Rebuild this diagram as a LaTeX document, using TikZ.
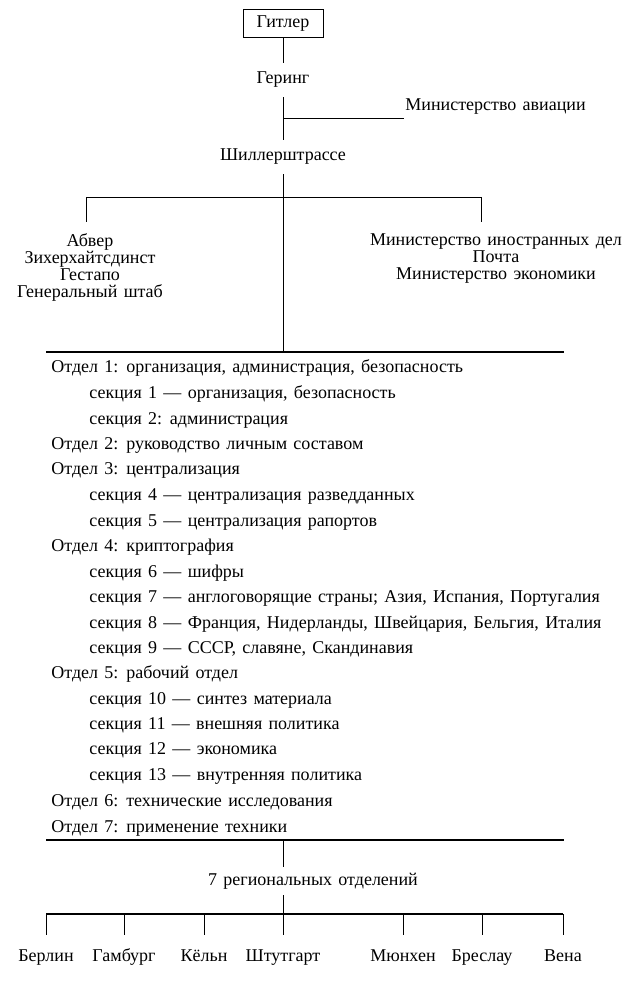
\documentclass[tikz,border=0pt]{standalone}
\usepackage{fontspec}
\setmainfont[WordSpace=1.4]{Liberation Serif}
\begin{document}
\begin{tikzpicture}[x=1pt,y=-1pt,line width=0.8pt,
    every node/.style={font=\fontsize{18}{17}\selectfont,inner sep=1pt,
      text height=12pt,text depth=4pt},
    chief/.style={draw,line width=1pt,minimum width=80pt,minimum height=28pt},
    title/.style={inner ysep=9pt},
    group/.style={align=center,anchor=north,text height=,text depth=},
    entry/.style={anchor=base west},
    city/.style={inner ysep=14pt},
    bar/.style={line width=1.1pt}]
  \useasboundingbox (0,0) rectangle (634,981);
  % top of the chart
  \draw
    (283,24) node[chief] (hitler){Гитлер}
    (283,80) node[title] (goering){Геринг}
    (283,157) node[title] (schiller){Шиллерштрассе}
    (404,111) node[entry] (aviation){Министерство авиации}
    (90,232) node[group] (services){Абвер\\Зихерхайтсдинст\\Гестапо\\Генеральный штаб}
    (496,232) node[group] (ministries){Министерство иностранных дел\\Почта\\Министерство экономики};
  \coordinate (fork) at (283,118);
  \coordinate (legL) at (86,222);
  \coordinate (legR) at (481,222);
  \coordinate (topW) at (46,352);
  \coordinate (topE) at (564,352);
  \begin{scope}[-]
    \draw (hitler) to (goering);
    \draw (goering) to (schiller);
    \draw (fork) to (fork -| aviation.west);
    \draw (legL) -- (86,197) -| (legR);
    \draw (schiller) to (schiller |- topW);
    \draw[bar] (topW) to (topE);
  \end{scope}
  % departments and sections
  \draw
    (50,372) node[entry] (d1){Отдел 1: организация, администрация, безопасность}
    (88,398) node[entry] (s1){секция 1 --- организация, безопасность}
    (88,424) node[entry] (s2){секция 2: администрация}
    (50,449) node[entry] (d2){Отдел 2: руководство личным составом}
    (50,474) node[entry] (d3){Отдел 3: централизация}
    (88,500) node[entry] (s4){секция 4 --- централизация разведданных}
    (88,526) node[entry] (s5){секция 5 --- централизация рапортов}
    (50,551) node[entry] (d4){Отдел 4: криптография}
    (88,577) node[entry] (s6){секция 6 --- шифры}
    (88,602) node[entry] (s7){секция 7 --- англоговорящие страны; Азия, Испания, Португалия}
    (88,628) node[entry] (s8){секция 8 --- Франция, Нидерланды, Швейцария, Бельгия, Италия}
    (88,653) node[entry] (s9){секция 9 --- СССР, славяне, Скандинавия}
    (50,678) node[entry] (d5){Отдел 5: рабочий отдел}
    (88,704) node[entry] (s10){секция 10 --- синтез материала}
    (88,729) node[entry] (s11){секция 11 --- внешняя политика}
    (88,754) node[entry] (s12){секция 12 --- экономика}
    (88,780) node[entry] (s13){секция 13 --- внутренняя политика}
    (50,806) node[entry] (d6){Отдел 6: технические исследования}
    (50,832) node[entry] (d7){Отдел 7: применение техники};
  % regional offices
  \coordinate (lowW) at (46,840);
  \coordinate (lowE) at (564,840);
  \coordinate (lowC) at (283,840);
  \coordinate (cityW) at (46,914);
  \coordinate (cityE) at (563,914);
  \draw
    (313,881) node[inner ysep=6pt] (regions){7 региональных отделений}
    (46,957) node[city] (berlin){Берлин}
    (124,957) node[city] (hamburg){Гамбург}
    (204,957) node[city] (koeln){Кёльн}
    (283,957) node[city] (stuttgart){Штутгарт}
    (403,957) node[city] (muenchen){Мюнхен}
    (482,957) node[city] (breslau){Бреслау}
    (563,957) node[city] (wien){Вена};
  \begin{scope}[-]
    \draw[bar] (lowW) to (lowE);
    \draw (lowC) to (lowC |- regions.north);
    \draw (lowC |- regions.south) to (lowC |- cityW);
    \draw[bar] (cityW) to (cityE);
    \draw (berlin.north |- cityW) to (berlin.north);
    \draw (hamburg.north |- cityW) to (hamburg.north);
    \draw (koeln.north |- cityW) to (koeln.north);
    \draw (stuttgart.north |- cityW) to (stuttgart.north);
    \draw (muenchen.north |- cityW) to (muenchen.north);
    \draw (breslau.north |- cityW) to (breslau.north);
    \draw (wien.north |- cityW) to (wien.north);
  \end{scope}
\end{tikzpicture}
\end{document}
